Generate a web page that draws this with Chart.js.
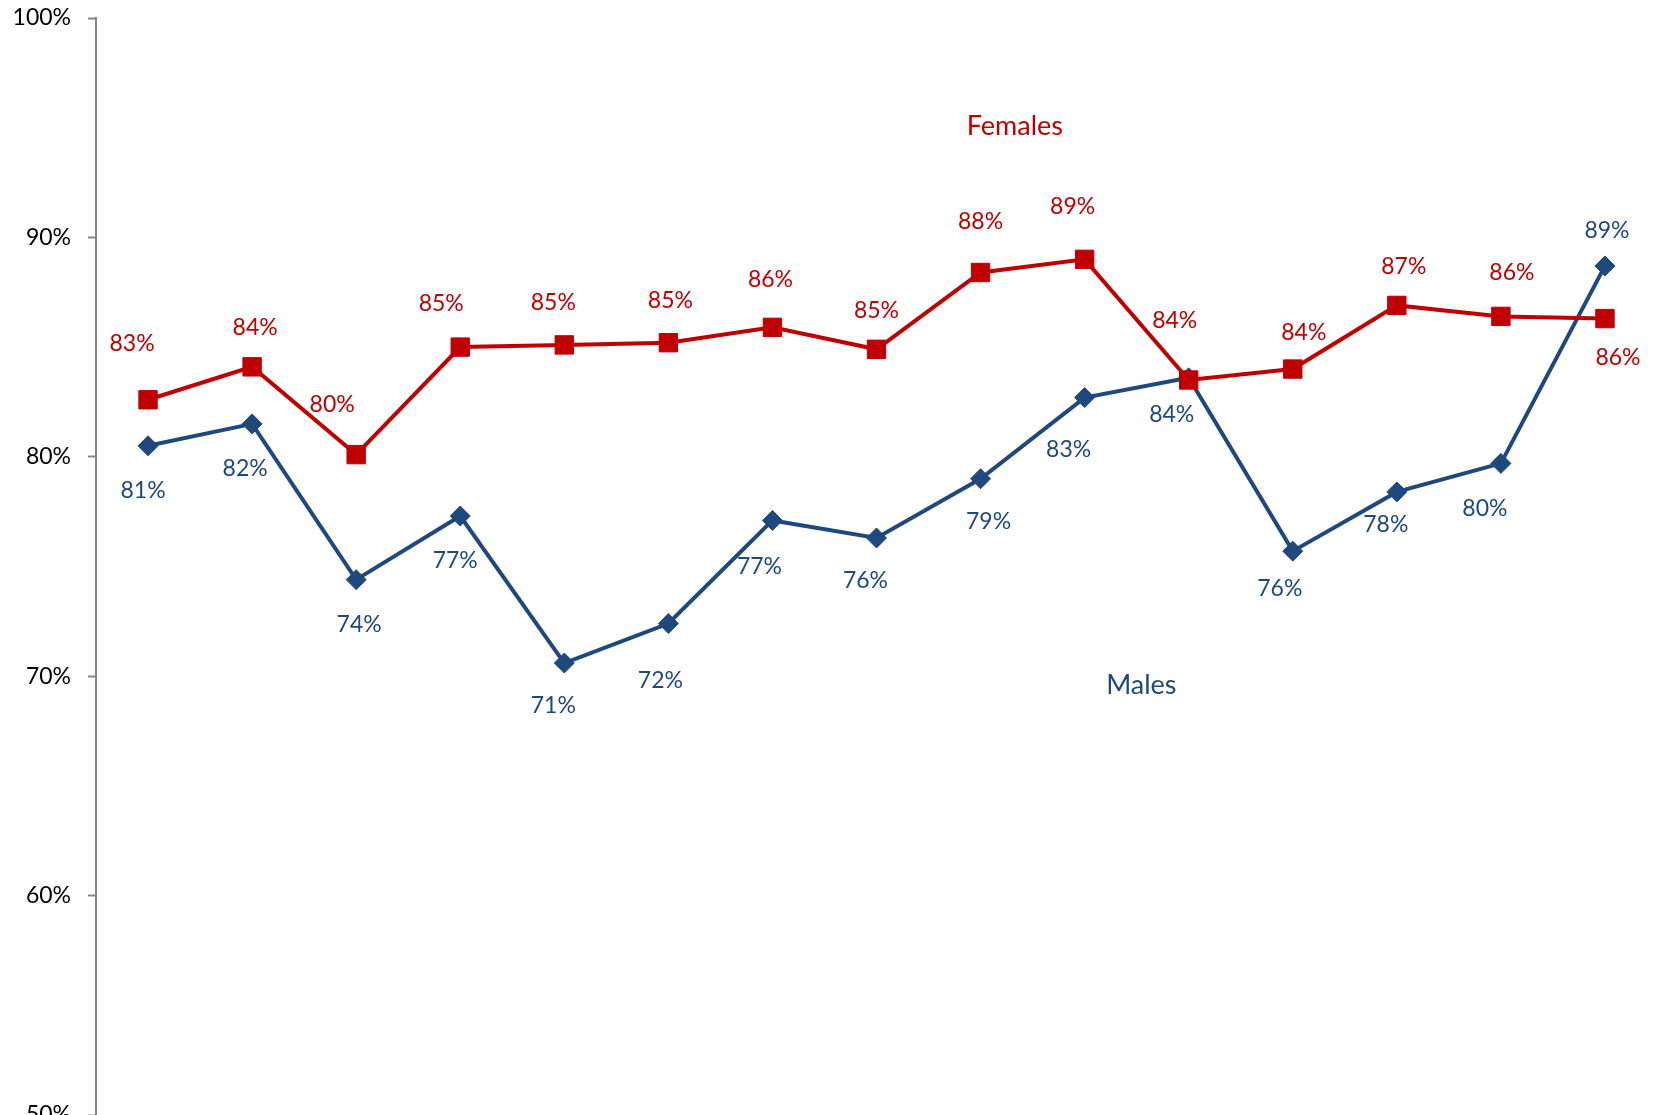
<!DOCTYPE html>
<html>
<head>
<meta charset="utf-8">
<script src="https://cdn.jsdelivr.net/npm/chart.js@4.4.1/dist/chart.umd.min.js"></script>
<style>
  html, body { margin: 0; padding: 0; background: #fff; overflow: hidden; }
  #wrap { position: relative; width: 1657px; height: 1115px; }
</style>
</head>
<body>
<div id="wrap"><canvas id="chart"></canvas></div>
<script>
// 15 survey waves, no category labels shown
const waves = ['1', '2', '3', '4', '5', '6', '7', '8', '9', '10', '11', '12', '13', '14', '15'];
const females = [82.6, 84.1, 80.1, 85.0, 85.1, 85.2, 85.9, 84.9, 88.4, 89.0, 83.5, 84.0, 86.9, 86.4, 86.3];
const males = [80.5, 81.5, 74.4, 77.3, 70.6, 72.4, 77.1, 76.3, 79.0, 82.7, 83.6, 75.7, 78.4, 79.7, 88.7];
const yTicks = [50, 60, 70, 80, 90, 100];

const RED = '#C00000';
const BLUE = '#1F497D';
const FONT = 'Lato, "Open Sans", sans-serif';

// label offsets (px) from each marker, hand placed like the spreadsheet original
const femaleLabelPos = [[-16, -56], [3, -39], [-24, -50], [-19, -44], [-11, -42], [2, -42], [-2, -48], [0, -39],
    [0, -51], [-12, -53], [-14, -59], [11, -36], [7, -39], [11, -44], [13, 39]];
const maleLabelPos = [[-5, 45], [-7, 45], [3, 45], [-5, 45], [-11, 43], [-8, 57], [-13, 46], [-11, 43],
    [8, 43], [-16, 52], [-17, 37], [-13, 37], [-11, 33], [-16, 45], [2, -35]];

// series names sit in data space
const seriesNames = [
    { text: 'Females', x: 8.33, y: 95.05, color: RED },
    { text: 'Males', x: 9.545, y: 69.6, color: BLUE }
];

const labelPlugin = {
    id: 'valueLabels',
    afterDatasetsDraw(chart) {
        const ctx = chart.ctx;
        ctx.save();
        ctx.font = '23px ' + FONT;
        ctx.textAlign = 'center';
        ctx.textBaseline = 'middle';
        const offsets = [femaleLabelPos, maleLabelPos];
        chart.data.datasets.forEach((ds, i) => {
            const meta = chart.getDatasetMeta(i);
            ctx.fillStyle = ds.borderColor;
            meta.data.forEach((pt, j) => {
                const off = offsets[i][j];
                ctx.fillText(Math.round(ds.data[j]) + '%', pt.x + off[0], pt.y + off[1]);
            });
        });
        const xs = chart.scales.x, ys = chart.scales.y;
        ctx.font = '27px ' + FONT;
        seriesNames.forEach(s => {
            ctx.fillStyle = s.color;
            ctx.fillText(s.text, xs.getPixelForValue(s.x), ys.getPixelForValue(s.y));
        });
        ctx.restore();
    }
};

new Chart(document.getElementById('chart'), {
    type: 'line',
    data: {
        labels: waves,
        datasets: [{
            label: 'Females',
            data: females,
            borderColor: RED,
            backgroundColor: RED,
            borderWidth: 4,
            pointStyle: 'rect',
            pointRadius: 13,
            pointBorderWidth: 1,
            tension: 0
        }, {
            label: 'Males',
            data: males,
            borderColor: BLUE,
            backgroundColor: BLUE,
            borderWidth: 4,
            pointStyle: 'rectRot',
            pointRadius: 10,
            pointBorderWidth: 1,
            tension: 0
        }]
    },
    options: {
        responsive: true,
        maintainAspectRatio: false,
        animation: false,
        layout: { autoPadding: false, padding: { top: 18, bottom: 0, left: 0, right: 0 } },
        plugins: {
            legend: { display: false },
            tooltip: { enabled: false }
        },
        scales: {
            x: {
                display: false,
                offset: true
            },
            y: {
                min: 50,
                max: 100,
                afterFit: (scale) => {
                    // axis runs off the bottom edge, so no room kept for end labels
                    scale.width = 96;
                    scale.paddingTop = 0;
                    scale.paddingBottom = 0;
                },
                afterBuildTicks: (scale) => { scale.ticks = yTicks.map(v => ({ value: v })); },
                ticks: {
                    color: '#000',
                    padding: 17,
                    font: { family: FONT, size: 23 },
                    callback: (v) => v + '%'
                },
                grid: {
                    drawOnChartArea: false,
                    drawTicks: true,
                    tickLength: 8,
                    tickWidth: 2,
                    tickColor: '#868686'
                },
                border: { display: true, color: '#868686', width: 2 }
            }
        }
    },
    plugins: [labelPlugin]
});
</script>
</body>
</html>
